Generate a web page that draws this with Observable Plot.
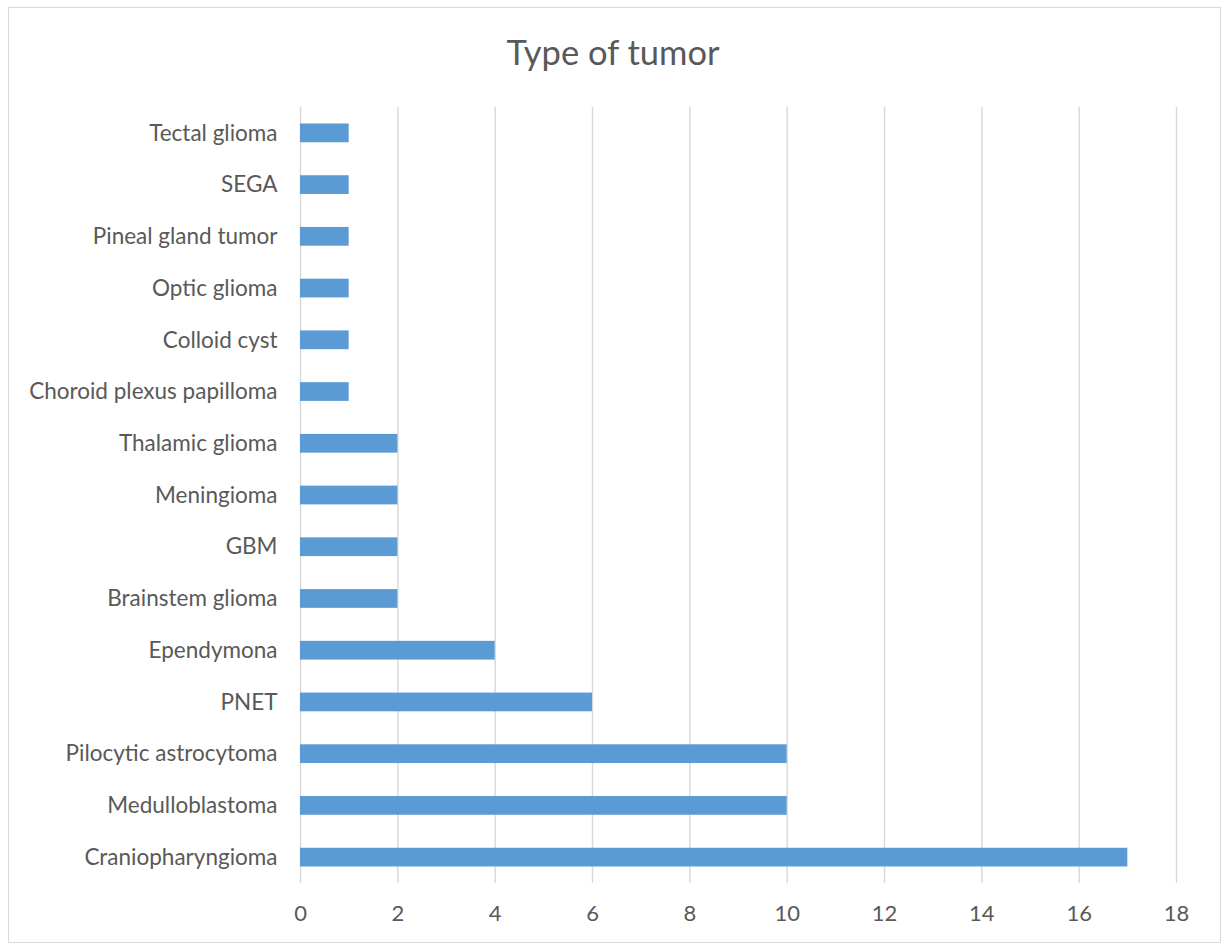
<!DOCTYPE html>
<html>
<head>
<meta charset="utf-8">
<script src="https://cdn.jsdelivr.net/npm/d3@7"></script>
<script src="https://cdn.jsdelivr.net/npm/@observablehq/plot@0.6"></script>
<style>
  html, body { margin: 0; padding: 0; background: #fff; }
  #wrap { position: relative; width: 1226px; height: 945px; overflow: hidden; }
  #frame { position: absolute; left: 8px; top: 7px; width: 1213px; height: 936px; border: 1px solid #d9d9d9; box-sizing: border-box; }
  #title { position: absolute; left: 0; width: 1226px; top: 31px; text-align: center; font-family: Lato, sans-serif; font-size: 34.5px; line-height: 42px; color: #595959; }
  #chart { position: absolute; left: 0; top: 0; }
</style>
</head>
<body>
<div id="wrap">
  <div id="frame"></div>
  <div id="title">Type of tumor</div>
  <div id="chart"></div>
</div>
<script>
const categories = [
  "Tectal glioma", "SEGA", "Pineal gland tumor", "Optic glioma", "Colloid cyst",
  "Choroid plexus papilloma", "Thalamic glioma", "Meningioma", "GBM", "Brainstem glioma",
  "Ependymona", "PNET", "Pilocytic astrocytoma", "Medulloblastoma", "Craniopharyngioma"
];
const counts = [1, 1, 1, 1, 1, 1, 2, 2, 2, 2, 4, 6, 10, 10, 17];
const xTicks = [0, 2, 4, 6, 8, 10, 12, 14, 16, 18];

const data = categories.map((c, i) => ({category: c, count: counts[i]}));

const chart = Plot.plot({
  width: 1226,
  height: 945,
  marginLeft: 300,
  marginRight: 50,
  marginTop: 107,
  marginBottom: 62,
  style: {fontFamily: "Lato, sans-serif", fontSize: "22px", color: "#595959", background: "transparent"},
  x: {domain: [0, 18], ticks: xTicks, label: null},
  y: {domain: categories, padding: 0, round: false, label: null},
  marks: [
    Plot.gridX(xTicks, {stroke: "#d9d9d9", strokeOpacity: 1, strokeWidth: 1.5}),
    Plot.barX(data, {x: "count", y: "category", fill: "#5b9bd5", insetTop: 16.5, insetBottom: 16.5}),
    Plot.axisX({ticks: xTicks, tickSize: 0, tickPadding: 22, fill: "#595959", fontSize: 22, label: null}),
    Plot.axisY({tickSize: 0, tickPadding: 23, fill: "#595959", fontSize: 22.5, label: null})
  ]
});
document.getElementById("chart").appendChild(chart);
</script>
</body>
</html>
